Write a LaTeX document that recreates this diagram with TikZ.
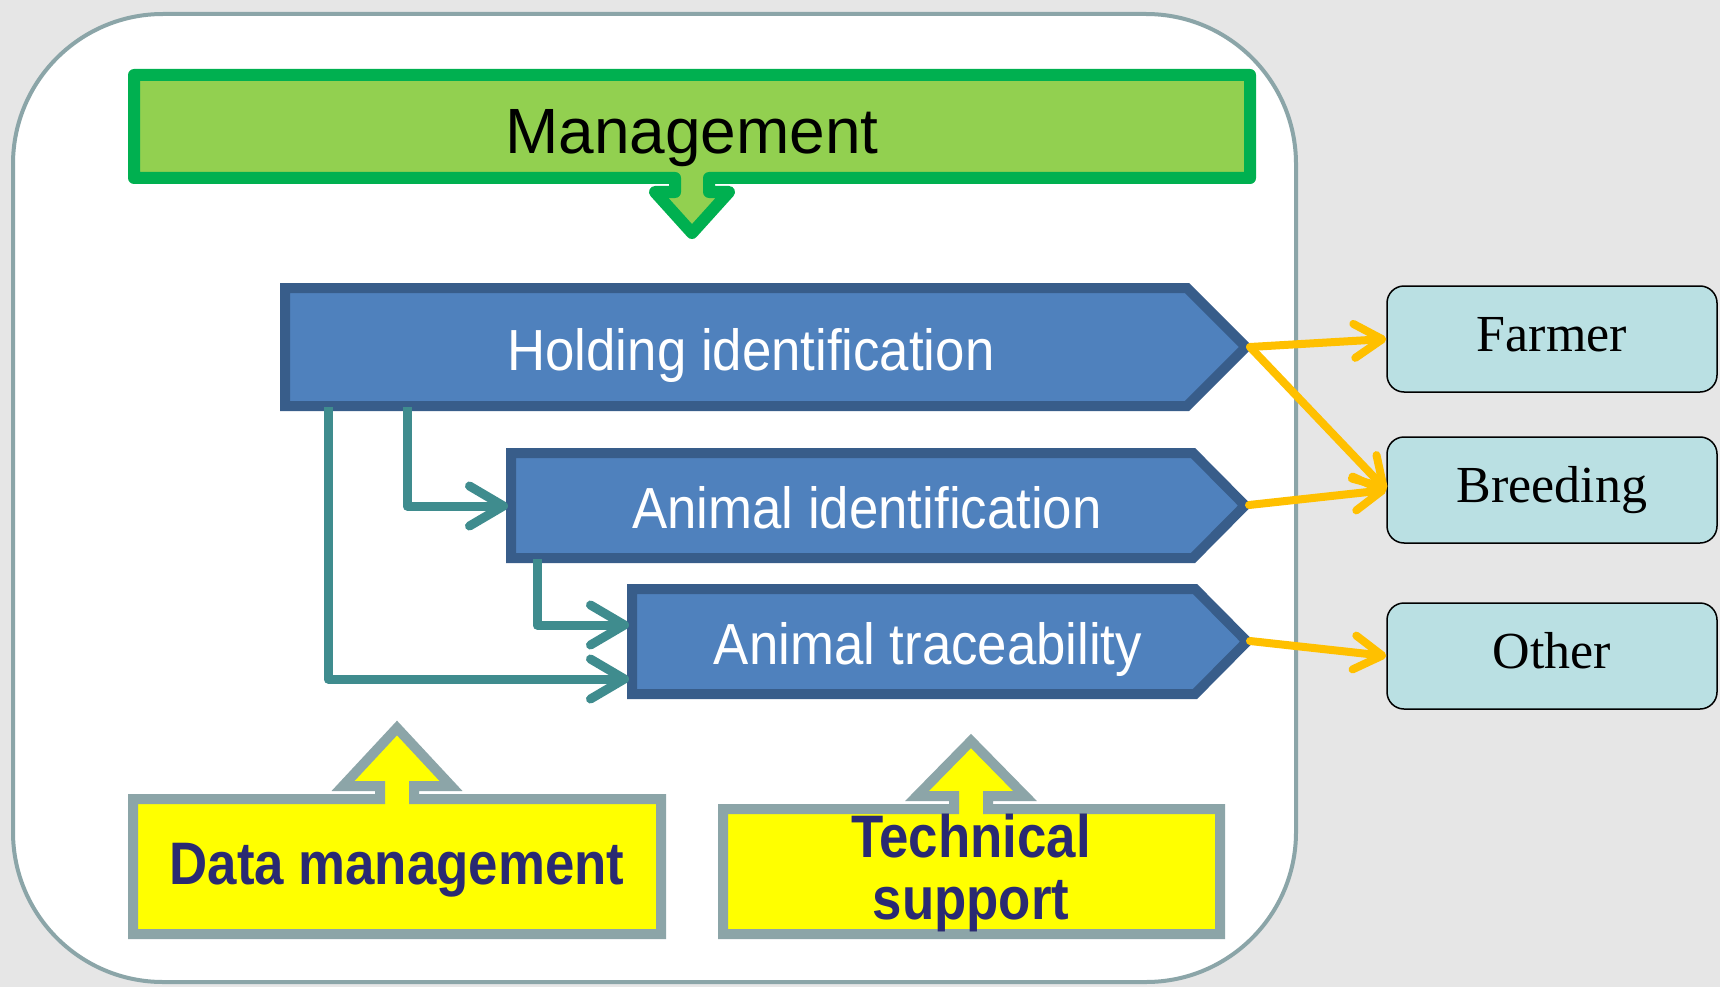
\documentclass[tikz,border=0pt]{standalone}
\usepackage{fontspec}
\usepackage{graphicx}
\setmainfont{Liberation Serif}
\newfontfamily\arialf{Liberation Sans}
\usetikzlibrary{arrows.meta}
\definecolor{bgray}{HTML}{E6E6E6}
\definecolor{framec}{HTML}{8BA5A8}
\definecolor{gfill}{HTML}{92D050}
\definecolor{gline}{HTML}{00B050}
\definecolor{bfill}{HTML}{4F81BD}
\definecolor{bline}{HTML}{385D8A}
\definecolor{tealc}{HTML}{3F8C8E}
\definecolor{yfill}{HTML}{FFFF00}
\definecolor{yline}{HTML}{8CA5A8}
\definecolor{navyc}{HTML}{2A2A72}
\definecolor{orangec}{HTML}{FFC000}
\definecolor{cyanbox}{HTML}{BAE0E3}
\newcommand{\cnd}[1]{\scalebox{0.91}[1]{#1}}
\tikzset{
  bluebox/.style={draw=bline, fill=bfill, line width=10pt, line join=miter},
  btext/.style={text=white, font=\arialf\fontsize{58}{64}\selectfont, inner sep=0pt, anchor=base},
  ycall/.style={draw=yline, fill=yfill, line width=10pt, line join=miter},
  ytext/.style={text=navyc, font=\arialf\bfseries\fontsize{60}{64}\selectfont, inner sep=0pt, anchor=base},
  outbox/.style={draw=black, line width=1.5pt, fill=cyanbox, rounded corners=17pt,
    minimum width=330pt, minimum height=106pt, inner sep=0pt,
    font=\fontsize{52}{60}\selectfont, text height=36pt, text depth=12pt},
  yarrow/.style={orangec, line width=8pt, line cap=round, -{Straight Barb[length=28pt,width=34pt,round]}},
  tarrow/.style={tealc, line width=9pt, line join=round, -{Straight Barb[length=34pt,width=40pt,round]}},
}
\begin{document}
\begin{tikzpicture}[x=1pt,y=-1pt]
\useasboundingbox (0,0) rectangle (1720,987);
\fill[bgray] (0,0) rectangle (1720,987);
\draw[framec, line width=4pt, fill=white, rounded corners=150pt] (13,14) rectangle (1296,982);

% Management callout
\draw[draw=gline, fill=gfill, line width=12pt, line join=round]
  (134,75) -- (1250,75) -- (1250,178) -- (709,178) -- (709,192) -- (729,192) -- (692,233)
  -- (655,192) -- (675,192) -- (675,178) -- (134,178) -- cycle;
\node[font=\arialf\fontsize{64}{70}\selectfont, inner sep=0pt, anchor=base] (mgmt) at (692,154) {Management};

% Blue boxes
\draw[bluebox] (285,288) -- (1187,288) -- (1246,347) -- (1187,406) -- (285,406) -- cycle;
\draw[bluebox] (511,453) -- (1193,453) -- (1245,505.5) -- (1193,558) -- (511,558) -- cycle;
\draw[bluebox] (632,589) -- (1195,589) -- (1247,641.5) -- (1195,694) -- (632,694) -- cycle;
\node[btext] (hold) at (751,370) {\cnd{Holding identification}};
\node[btext] (aid) at (867,528) {\cnd{Animal identification}};
\node[btext] (atr) at (928,664) {\cnd{Animal traceability}};

\coordinate (hold-tip) at (1250,347);
\coordinate (aid-tip) at (1249,505);
\coordinate (atr-tip) at (1250,641);
\coordinate (hold-b1) at (407,407);
\coordinate (hold-b2) at (328,407);
\coordinate (aid-b) at (537,559);
\coordinate (aid-w) at (508,506);
\coordinate (atr-w1) at (629,625);
\coordinate (atr-w2) at (629,679);

% Teal connectors
\draw[tarrow] (hold-b1) |- (aid-w);
\draw[tarrow] (hold-b2) |- (atr-w2);
\draw[tarrow] (aid-b) |- (atr-w1);

% Yellow callouts
\draw[ycall] (133,799) -- (380,799) -- (380,786) -- (343,786) -- (397,728) -- (451,786)
  -- (414,786) -- (414,799) -- (661,799) -- (661,934) -- (133,934) -- cycle;
\draw[ycall] (723,809) -- (954,809) -- (954,796) -- (917,796) -- (971,741) -- (1025,796)
  -- (988,796) -- (988,809) -- (1220,809) -- (1220,934) -- (723,934) -- cycle;
\node[ytext] (dm) at (397,884) {\scalebox{0.88}[1]{Data management}};
\node[ytext] (ts1) at (971,857) {\scalebox{0.88}[1]{Technical}};
\node[ytext] (ts2) at (971,919) {\scalebox{0.88}[1]{support}};

% Output boxes
\node[outbox] (farmer) at (1552,339) {Farmer};
\node[outbox] (breeding) at (1552,490) {Breeding};
\node[outbox] (other) at (1552,656) {Other};

% Yellow arrows
\draw[yarrow] (hold-tip) -- (farmer.west);
\draw[yarrow] (hold-tip) -- (breeding.west);
\draw[yarrow] (aid-tip) -- (breeding.west);
\draw[yarrow] (atr-tip) -- (other.west);
\end{tikzpicture}
\end{document}
